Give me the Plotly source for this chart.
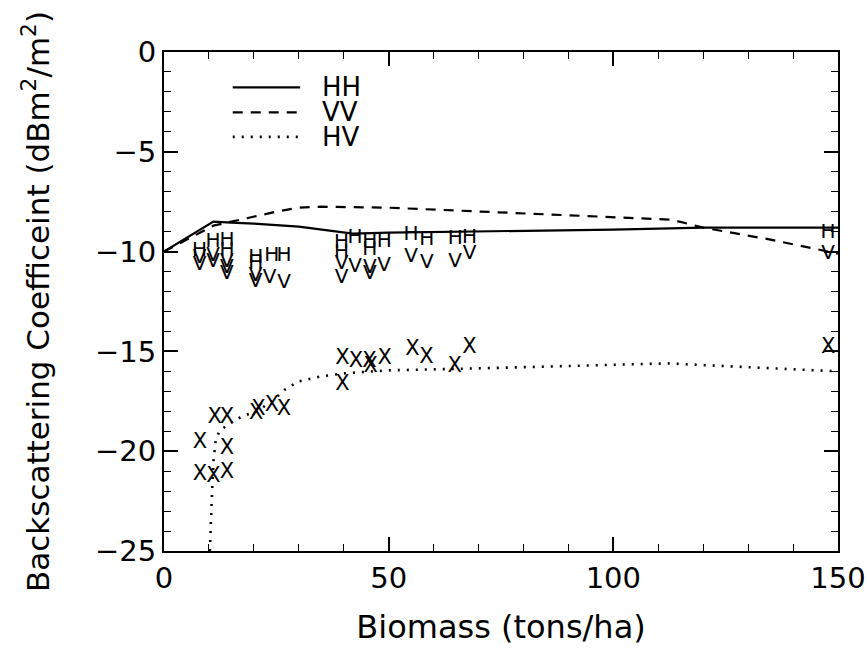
import plotly.graph_objects as go

# ---- model curves ----
hh_line_x = [0, 11, 15, 20, 30, 42, 50, 70, 100, 120, 150]
hh_line_y = [-10.0, -8.5, -8.55, -8.6, -8.75, -9.1, -9.05, -9.0, -8.9, -8.8, -8.8]
vv_line_x = [0, 11, 15, 20, 25, 30, 35, 50, 75, 100, 113, 120, 135, 150]
vv_line_y = [-10.0, -8.7, -8.5, -8.25, -8.0, -7.8, -7.75, -7.8, -8.05, -8.3, -8.4, -8.8, -9.4, -10.1]
hv_line_x = [10.2, 10.4, 10.7, 11.0, 11.5, 12.3, 14.0, 17.0, 21.0, 24.0, 27.0, 30.0, 35.0, 40.0, 50.0, 70.0, 100.0, 112.0, 150.0]
hv_line_y = [-25.0, -23.5, -22.0, -20.5, -19.5, -19.0, -18.7, -18.3, -17.95, -17.5, -16.9, -16.5, -16.25, -16.1, -15.95, -15.85, -15.65, -15.6, -16.0]

# ---- measured points ----
hh_pts_x = [7.9, 10.9, 14.0, 14.0, 20.4, 20.4, 24.0, 26.7, 39.5, 39.5, 42.5, 45.8, 45.8, 49.0, 55.0, 58.5, 64.8, 68.0, 147.8]
hh_pts_y = [-9.95, -9.5, -9.45, -9.95, -10.3, -10.6, -10.2, -10.2, -9.55, -10.05, -9.3, -9.5, -9.9, -9.5, -9.15, -9.4, -9.35, -9.3, -9.05]
vv_pts_x = [7.9, 7.9, 10.9, 10.9, 14.0, 14.0, 14.0, 20.4, 20.4, 23.5, 26.7, 39.5, 39.5, 42.5, 45.8, 45.8, 49.0, 55.0, 58.5, 64.8, 68.0, 147.8]
vv_pts_y = [-10.3, -10.65, -10.2, -10.5, -10.5, -10.8, -11.1, -11.2, -11.5, -11.3, -11.55, -10.6, -11.3, -10.75, -10.8, -11.1, -10.7, -10.25, -10.55, -10.5, -10.1, -10.1]
hv_pts_x = [8.0, 8.0, 11.0, 14.0, 14.0, 11.3, 14.0, 20.5, 21.0, 24.0, 26.7, 39.7, 39.7, 42.7, 45.7, 46.0, 49.1, 55.3, 58.4, 64.7, 68.0, 147.8]
hv_pts_y = [-19.6, -21.2, -21.3, -21.1, -19.9, -18.3, -18.3, -18.1, -17.9, -17.7, -17.9, -15.35, -16.65, -15.5, -15.5, -15.75, -15.35, -14.9, -15.3, -15.75, -14.8, -14.8]

x_ticks = [0, 50, 100, 150]
y_ticks = [0, -5, -10, -15, -20, -25]
legend_names = ["HH", "VV", "HV"]

FONT = "DejaVu Sans"
fig = go.Figure()

fig.add_trace(go.Scatter(x=hh_line_x, y=hh_line_y, mode="lines", name="HH",
                         line=dict(color="black", width=2.2)))
fig.add_trace(go.Scatter(x=vv_line_x, y=vv_line_y, mode="lines", name="VV",
                         line=dict(color="black", width=2.2, dash="10px,8px")))
fig.add_trace(go.Scatter(x=hv_line_x, y=hv_line_y, mode="lines", name="HV",
                         line=dict(color="black", width=2.6, dash="2px,7px")))

for xs, ys, ch, sz in [(hh_pts_x, hh_pts_y, "H", 20), (vv_pts_x, vv_pts_y, "V", 20), (hv_pts_x, hv_pts_y, "X", 21)]:
    fig.add_trace(go.Scatter(x=xs, y=ys, mode="text", text=[ch] * len(xs),
                             textposition="middle center",
                             textfont=dict(family=FONT, size=sz, color="black"),
                             showlegend=False, hoverinfo="skip"))

# manual legend (paper coordinates)
leg_y = [0.929, 0.879, 0.830]
leg_dash = ["solid", "10px,8px", "2px,7px"]
leg_w = [2.2, 2.2, 2.6]
for name, yy, dsh, w in zip(legend_names, leg_y, leg_dash, leg_w):
    fig.add_shape(type="line", xref="paper", yref="paper", x0=0.102, x1=0.202, y0=yy, y1=yy,
                  line=dict(color="black", width=w, dash=dsh))
    fig.add_annotation(xref="paper", yref="paper", x=0.232, y=yy, text=name, showarrow=False,
                       xanchor="left", yanchor="middle", font=dict(family=FONT, size=26, color="black"))

axis_common = dict(showgrid=False, zeroline=False, showline=True, linecolor="black", linewidth=2,
                   ticks="inside", ticklen=14, tickwidth=1.6, tickcolor="black", mirror="allticks",
                   tickfont=dict(family=FONT, size=29, color="black"), automargin=False)

fig.update_xaxes(range=[0, 150], tickvals=x_ticks,
                 minor=dict(ticks="inside", dtick=10, ticklen=7, tickwidth=1.4, tickcolor="black"),
                 title=dict(text="Biomass (tons/ha)", font=dict(family=FONT, size=32, color="black"), standoff=22),
                 **axis_common)
fig.update_yaxes(range=[-25, 0], tickvals=y_ticks,
                 minor=dict(ticks="inside", dtick=1, ticklen=7, tickwidth=1.4, tickcolor="black"),
                 title=dict(text="Backscattering Coefficeint (dBm<sup>2</sup>/m<sup>2</sup>)",
                            font=dict(family=FONT, size=31, color="black"), standoff=36),
                 **axis_common)

fig.update_layout(width=867, height=655, margin=dict(l=164, r=29, t=52, b=104),
                  paper_bgcolor="white", plot_bgcolor="white", showlegend=False,
                  font=dict(family=FONT, color="black"))

fig.write_html("out.html")
